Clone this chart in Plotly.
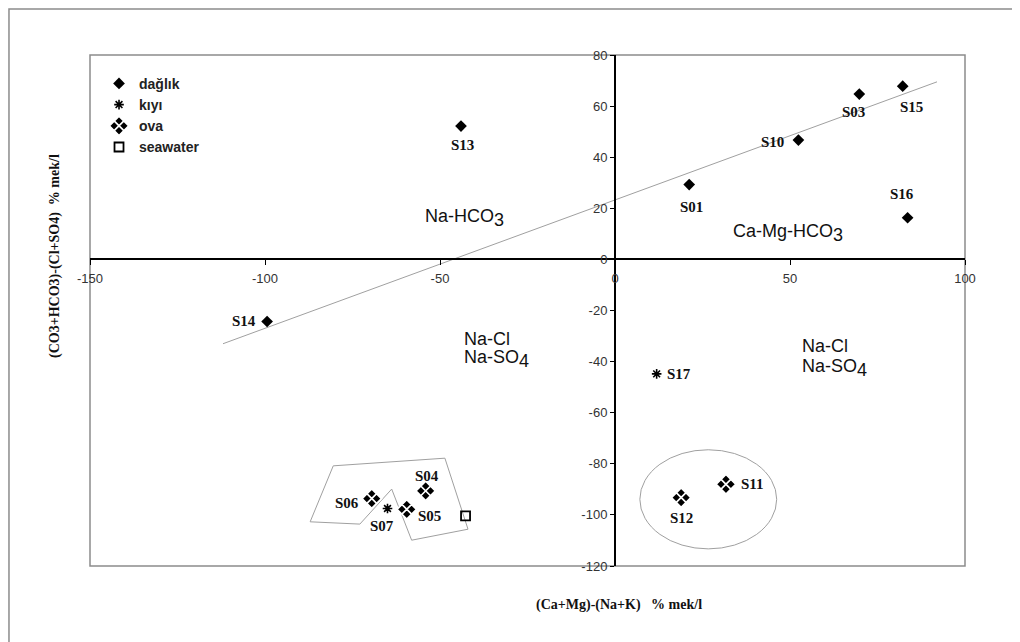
import plotly.graph_objects as go

# ---- data ----
daglik_names = ["S01", "S03", "S10", "S13", "S14", "S15", "S16"]
daglik_x = [21.2, 69.8, 52.4, -44.0, -99.4, 82.2, 83.6]
daglik_y = [29.3, 64.7, 46.7, 52.2, -24.3, 67.8, 16.3]

kiyi_names = ["S07", "S17"]
kiyi_x = [-65.0, 11.9]
kiyi_y = [-97.5, -44.8]

ova_names = ["S04", "S05", "S06", "S11", "S12"]
ova_x = [-54.1, -59.5, -69.5, 31.7, 18.9]
ova_y = [-90.6, -97.8, -93.6, -88.0, -93.2]

seawater_x = [-42.7]
seawater_y = [-100.4]

trend_x = [-112, 92]
trend_y = [-33, 69.5]

polygon_x = [-80.5, -48.6, -42.0, -58.1, -63.8, -72.9, -87.1, -80.5]
polygon_y = [-80.8, -77.8, -105.6, -109.9, -89.9, -103.6, -102.7, -80.8]

ellipse_x = [7.1, 46.2]
ellipse_y = [-113.3, -74.5]

x_ticks = [-150, -100, -50, 0, 50, 100]
y_ticks = [-120, -100, -80, -60, -40, -20, 0, 20, 40, 60, 80]

# label offsets (pixels) per sample
label_shift = {
    "S01": (2, -22), "S03": (-6, -18), "S10": (-26, -2), "S13": (1, -19),
    "S14": (-23, 0), "S15": (9, -21), "S16": (-6, 24),
    "S07": (-6, -17), "S17": (22, 0),
    "S04": (1, 15), "S05": (23, -7), "S06": (-25, -4), "S11": (27, 0), "S12": (0, -20),
}

fig = go.Figure()

fig.add_trace(go.Scatter(x=trend_x, y=trend_y, mode="lines",
                         line=dict(color="#a0a0a0", width=1), showlegend=False, hoverinfo="skip"))
fig.add_trace(go.Scatter(x=polygon_x, y=polygon_y, mode="lines",
                         line=dict(color="#a0a0a0", width=1), showlegend=False, hoverinfo="skip"))

fig.add_trace(go.Scatter(x=daglik_x, y=daglik_y, mode="markers", name="dağlık",
                         marker=dict(symbol="diamond", size=9, color="black", line=dict(width=0))))
fig.add_trace(go.Scatter(x=kiyi_x, y=kiyi_y, mode="markers", name="kıyı",
                         marker=dict(symbol="asterisk-open", size=8, color="black",
                                     line=dict(color="black", width=1.6))))
fig.add_trace(go.Scatter(x=ova_x, y=ova_y, mode="markers", name="ova",
                         marker=dict(symbol="diamond-x", size=15, color="black",
                                     line=dict(color="white", width=1.7))))
fig.add_trace(go.Scatter(x=seawater_x, y=seawater_y, mode="markers", name="seawater",
                         marker=dict(symbol="square-open", size=9, color="black",
                                     line=dict(color="black", width=1.8))))

annotations = []
label_font = dict(family="Liberation Serif", size=15, color="#111")
for names, xs, ys in [(daglik_names, daglik_x, daglik_y), (kiyi_names, kiyi_x, kiyi_y),
                      (ova_names, ova_x, ova_y)]:
    for n, x, y in zip(names, xs, ys):
        dx, dy = label_shift[n]
        annotations.append(dict(x=x, y=y, xref="x", yref="y", text="<b>%s</b>" % n,
                                showarrow=False, xshift=dx, yshift=dy, font=label_font))

region_font = dict(family="Liberation Sans", size=18, color="#111")
sub = "<sub><span style='font-size:18px'>%s</span></sub>"
regions = [
    (-42.9, 16.1, "Na-HCO" + sub % "3", "center"),
    (49.4, 10.2, "Ca-Mg-HCO" + sub % "3", "center"),
    (-43.7, -31.0, "Na-Cl", "left"),
    (-43.7, -38.8, "Na-SO" + sub % "4", "left"),
    (52.9, -33.7, "Na-Cl", "left"),
    (52.9, -42.4, "Na-SO" + sub % "4", "left"),
]
for x, y, t, xa in regions:
    annotations.append(dict(x=x, y=y, xref="x", yref="y", text=t, showarrow=False,
                            xanchor=xa, font=region_font))

title_font = dict(family="Liberation Serif", size=14, color="#111")
annotations.append(dict(x=0.6046, y=-0.0763, xref="paper", yref="paper", showarrow=False,
                        xanchor="center", yanchor="middle",
                        text="<b>(Ca+Mg)-(Na+K)\u00a0\u00a0\u00a0% mek/l</b>", font=title_font))
annotations.append(dict(x=-0.04, y=0.6067, xref="paper", yref="paper", showarrow=False,
                        textangle=-90, xanchor="center", yanchor="middle",
                        text="<b>(CO3+HCO3)-(Cl+SO4)\u00a0\u00a0% mek/l</b>", font=title_font))

shapes = [
    dict(type="circle", xref="x", yref="y", x0=ellipse_x[0], x1=ellipse_x[1],
         y0=ellipse_y[0], y1=ellipse_y[1], line=dict(color="#a0a0a0", width=1)),
    dict(type="rect", xref="paper", yref="paper", x0=0, x1=1, y0=0, y1=1,
         line=dict(color="#8c8c8c", width=1.5), layer="below"),
    dict(type="rect", xref="paper", yref="paper", x0=-0.0926, x1=1.3, y0=-0.4, y1=1.090,
         line=dict(color="#8c8c8c", width=1.5), layer="below"),
]

tick_font = dict(family="Liberation Sans", size=13, color="#333")
fig.update_layout(
    width=1020, height=642,
    margin=dict(l=82, r=63, t=47, b=84),
    paper_bgcolor="white", plot_bgcolor="white",
    showlegend=True,
    legend=dict(x=0.0103, y=0.975, xanchor="left", yanchor="top",
                font=dict(family="Liberation Sans", size=14, color="#222", weight="bold"),
                bgcolor="rgba(0,0,0,0)", borderwidth=0, itemsizing="trace",
                tracegroupgap=0, itemwidth=30),
    xaxis=dict(range=[-150, 100], tickvals=x_ticks, ticktext=[str(v) for v in x_ticks],
               showgrid=False, zeroline=False, showline=True, linecolor="black", linewidth=2,
               ticks="outside", ticklen=5, tickcolor="black", tickwidth=1,
               anchor="free", position=0.6, tickfont=tick_font, ticklabelstandoff=2,
               fixedrange=True),
    yaxis=dict(range=[-120, 80], tickvals=y_ticks, ticktext=[str(v) for v in y_ticks],
               showgrid=False, zeroline=False, showline=True, linecolor="black", linewidth=2,
               ticks="outside", ticklen=4, tickcolor="black", tickwidth=1,
               anchor="free", position=0.6, tickfont=tick_font, fixedrange=True),
    annotations=annotations,
    shapes=shapes,
)

fig.write_html("out.html")
